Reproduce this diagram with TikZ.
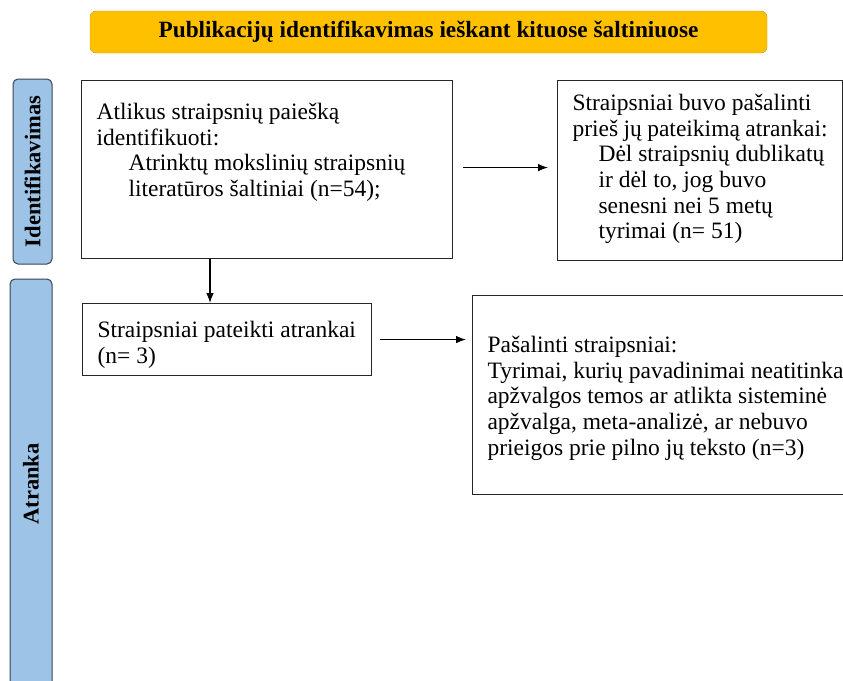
\documentclass[tikz,border=0pt]{standalone}
\usepackage{fontspec}
\setmainfont{Liberation Serif}
\usetikzlibrary{positioning,arrows.meta}
\definecolor{headgold}{HTML}{FFC000}
\definecolor{headedge}{HTML}{C49A1C}
\definecolor{phaseblue}{HTML}{9DC3E6}
\definecolor{phaseedge}{HTML}{3A4450}
\tikzset{
headbar/.style={
  draw=headedge, fill=headgold, rounded corners=6pt,
  minimum width=677pt, minimum height=42pt,
  font=\fontsize{23.3}{26}\selectfont\bfseries
  },
phasebar/.style={
  draw=phaseedge, line width=1pt, fill=phaseblue, rounded corners=5pt,
  rotate=90, inner sep=0pt,
  font=\fontsize{22.5}{24}\selectfont\bfseries
  },
stagebox/.style={
  draw=black!85, line width=1.1pt,
  inner xsep=15pt, inner ysep=0pt,
  anchor=north west,
  font=\fontsize{23.5}{25.7}\selectfont
  },
flow/.style={->, line width=1.1pt}
}

\begin{document}
\begin{tikzpicture}[x=1pt,y=-1pt,>={Latex[length=10pt,width=7.5pt]}]
\useasboundingbox (0,0) rectangle (843,680);
\clip (0,0) rectangle (843,680);

% antraste
\node[headbar] (head) at (428.5,32) {Publikacijų identifikavimas ieškant kituose šaltiniuose};

% etapai
\node[phasebar,minimum width=185pt,minimum height=39pt] (phase1) at (32.5,171.5) {Identifikavimas};
\node[phasebar,minimum width=410pt,minimum height=42pt] (phase2) at (31,484) {Atranka};

% langeliai
\node[stagebox] (identbox) at (81,80) {\parbox[t][178pt][t]{341pt}{\vspace*{22.5pt}%
  Atlikus straipsnių paiešką\\
  identifikuoti:\\
  \hspace*{32pt}Atrinktų mokslinių straipsnių\\
  \hspace*{32pt}literatūros šaltiniai (n=54);}};

\node[stagebox] (dupbox) at (557,80) {\parbox[t][180pt][t]{255pt}{\vspace*{13.5pt}%
  Straipsniai buvo pašalinti\\
  prieš jų pateikimą atrankai:\\
  \hspace*{26pt}Dėl straipsnių dublikatų\\
  \hspace*{26pt}ir dėl to, jog buvo\\
  \hspace*{26pt}senesni nei 5 metų\\
  \hspace*{26pt}tyrimai (n= 51)}};

\node[stagebox] (screenbox) at (82,303) {\parbox[t][72pt][t]{259pt}{\vspace*{17.5pt}%
  Straipsniai pateikti atrankai\\
  (n= 3)}};

\node[stagebox] (exclbox) at (472,295) {\parbox[t][199pt][t]{420pt}{\vspace*{40.5pt}%
  Pašalinti straipsniai:\\
  Tyrimai, kurių pavadinimai neatitinka\\
  apžvalgos temos ar atlikta sisteminė\\
  apžvalga, meta-analizė, ar nebuvo\\
  prieigos prie pilno jų teksto (n=3)}};

% rodykles
\draw[flow] ([xshift=129pt]identbox.south west) -- ([xshift=128pt]screenbox.north west);
\coordinate (dupfrom) at ([xshift=10pt,yshift=2pt]identbox.east);
\draw[flow,shorten >=9pt] (dupfrom) -- (dupfrom -| dupbox.west);
\coordinate (exclfrom) at ([xshift=8pt]screenbox.east);
\draw[flow,shorten >=6pt] (exclfrom) -- (exclfrom -| exclbox.west);
\end{tikzpicture}
\end{document}
